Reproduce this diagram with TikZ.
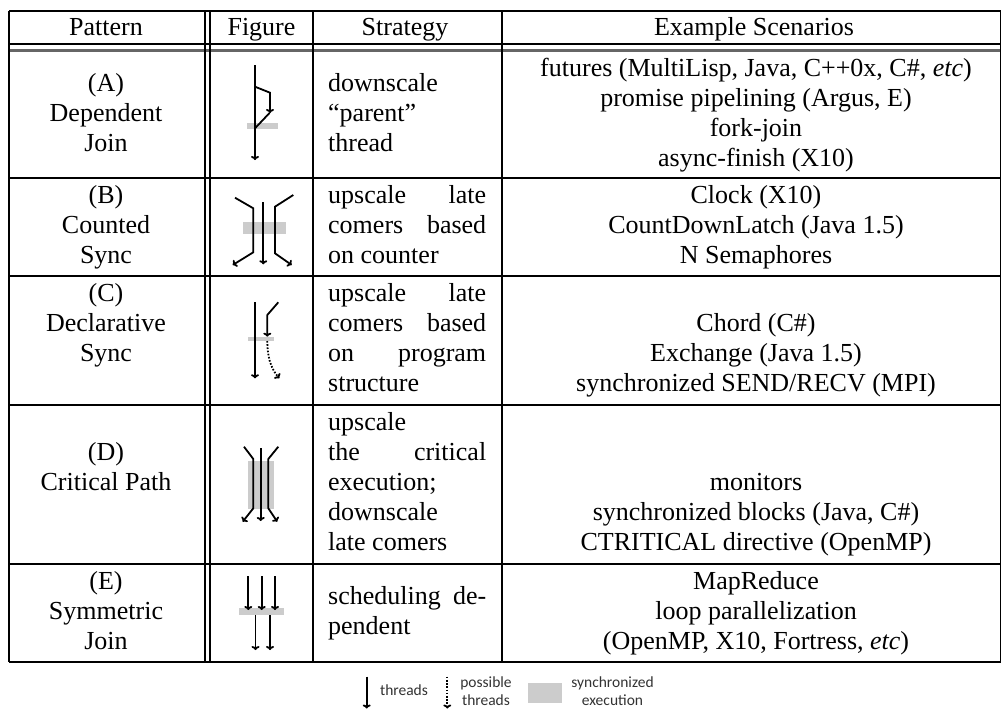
\documentclass[tikz,border=0pt]{standalone}
\usepackage{fontspec}
\setmainfont{Liberation Serif}
\newfontfamily\legendfont{Carlito}
\usetikzlibrary{arrows.meta}
\begin{document}
\begin{tikzpicture}[x=1pt,y=-1pt,
  tx/.style={font=\fontsize{26}{30}\selectfont, inner sep=0pt, anchor=base},
  txl/.style={tx, anchor=base west},
  thr/.style={line width=1.8pt, line join=miter, -{To[length=4pt,width=8pt]}},
  sync/.style={fill=gray!40, draw=none},
  rulex/.style={line width=1.1pt},
  leg/.style={font=\legendfont\fontsize{15.5}{20}\selectfont, inner sep=0pt, anchor=base, text=black!80}]
\useasboundingbox (0,0) rectangle (1002,710);
\fill[white] (0,0) rectangle (1002,710);

% ---------- table rules ----------
\foreach \y in {11,44,178,276,405,564,662} \draw[rulex] (9,\y) -- (1000.5,\y);
\draw[line width=2.4pt, black!60] (9,50.5) -- (1000.5,50.5);
\foreach \x in {9,205,210,313,502,1000.5} \draw[rulex] (\x,11) -- (\x,662);

% ---------- header ----------
\node[tx] (hpat) at (106,35.7) {Pattern};
\node[tx] (hfig) at (261.5,35.7) {Figure};
\node[tx] (hstr) at (405,35.7) {Strategy};
\node[tx] (hex) at (754,35.7) {Example Scenarios};

% ---------- row A ----------
\node[tx] (pa1) at (106,91) {(A)};
\node[tx] (pa2) at (106,121) {Dependent};
\node[tx] (pa3) at (106,151) {Join};
\node[txl] (sa1) at (328,91) {downscale};
\node[txl] (sa2) at (328,121) {“parent”};
\node[txl] (sa3) at (328,151) {thread};
\node[tx] (ea1) at (756,76) {futures (MultiLisp, Java, C++0x, C\#, \textit{etc})};
\node[tx] (ea2) at (756,106) {promise pipelining (Argus, E)};
\node[tx] (ea3) at (756,136) {fork-join};
\node[tx] (ea4) at (756,166) {async-finish (X10)};
% figure A
\fill[sync] (246.7,122.7) rectangle (278.3,129.3);
\draw[thr] (255,65) -- (255,160);
\draw[thr] (255,86.7) -- (270,92.7) -- (270,113);
\draw[line width=1.8pt] (269.5,113) -- (255,128.3);

% ---------- row B ----------
\node[tx] (pb1) at (106,203) {(B)};
\node[tx] (pb2) at (106,233) {Counted};
\node[tx] (pb3) at (106,263) {Sync};
\node[txl] (sb1) at (328,203) {\hbox to 158pt{upscale\hfill late}};
\node[txl] (sb2) at (328,233) {\hbox to 158pt{comers\hfill based}};
\node[txl] (sb3) at (328,263) {on counter};
\node[tx] (eb1) at (756,203) {Clock (X10)};
\node[tx] (eb2) at (756,233) {CountDownLatch (Java 1.5)};
\node[tx] (eb3) at (756,263) {N Semaphores};
% figure B
\fill[sync] (243.3,222.3) rectangle (286,234);
\draw[thr] (235,197.7) -- (253.3,208.3) -- (253.3,252.3) -- (232.7,265);
\draw[thr] (263.3,202.3) -- (263.3,264.3);
\draw[thr] (293.3,195) -- (275,206.7) -- (275,253.3) -- (291.7,265);

% ---------- row C ----------
\node[tx] (pc1) at (106,301) {(C)};
\node[tx] (pc2) at (106,331) {Declarative};
\node[tx] (pc3) at (106,361) {Sync};
\node[txl] (sc1) at (328,301) {\hbox to 158pt{upscale\hfill late}};
\node[txl] (sc2) at (328,331) {\hbox to 158pt{comers\hfill based}};
\node[txl] (sc3) at (328,361) {\hbox to 158pt{on\hfill program}};
\node[txl] (sc4) at (328,391) {structure};
\node[tx] (ec1) at (756,331) {Chord (C\#)};
\node[tx] (ec2) at (756,361) {Exchange (Java 1.5)};
\node[tx] (ec3) at (756,391) {synchronized SEND/RECV (MPI)};
% figure C
\fill[sync] (248.3,336.7) rectangle (274,341);
\draw[thr] (255,302.3) -- (255,378.3);
\draw[thr] (278.3,302.3) -- (267.3,315) -- (267.3,336.7);
\draw[thr, dash pattern=on 1.6pt off 1.6pt] (267.3,341) .. controls (267.3,356) and (270.5,368) .. (279.3,378.3);

% ---------- row D ----------
\node[tx] (pd1) at (106,460) {(D)};
\node[tx] (pd2) at (106,490) {Critical Path};
\node[txl] (sd1) at (328,430) {upscale};
\node[txl] (sd2) at (328,460) {\hbox to 158pt{the\hfill critical}};
\node[txl] (sd3) at (328,490) {execution;};
\node[txl] (sd4) at (328,520) {downscale};
\node[txl] (sd5) at (328,550) {late comers};
\node[tx] (ed1) at (756,490) {monitors};
\node[tx] (ed2) at (756,520) {synchronized blocks (Java, C\#)};
\node[tx] (ed3) at (756,550) {CTRITICAL directive (OpenMP)};
% figure D
\fill[sync] (248.3,461) rectangle (274,509);
\draw[thr] (244,446.7) -- (253.3,459) -- (253.3,508.3) -- (242.7,521.7);
\draw[thr] (260.7,448.3) -- (260.7,521);
\draw[thr] (278.3,446.7) -- (268.3,459) -- (268.3,508.3) -- (277.3,521.7);

% ---------- row E ----------
\node[tx] (pe1) at (106,589) {(E)};
\node[tx] (pe2) at (106,619) {Symmetric};
\node[tx] (pe3) at (106,649) {Join};
\node[txl] (se1) at (328,604) {\hbox to 158pt{scheduling\hfill de-}};
\node[txl] (se2) at (328,634) {pendent};
\node[tx] (ee1) at (756,589) {MapReduce};
\node[tx] (ee2) at (756,619) {loop parallelization};
\node[tx] (ee3) at (756,649) {(OpenMP, X10, Fortress, \textit{etc})};
% figure E
\fill[sync] (239.3,608.3) rectangle (284.3,615);
\foreach \x in {248.3,261.7,275} \draw[thr] (\x,576) -- (\x,610);
\foreach \x in {255.5,270} \draw[thr] (\x,615) -- (\x,650);

% ---------- legend ----------
\coordinate (l1a) at (366.7,676.7);
\coordinate (l1b) at (366.7,708.5);
\draw[thr] (l1a) -- (l1b);
\node[leg] (lt1) at (404,695.5) {threads};
\coordinate (l2a) at (447.3,676.7);
\coordinate (l2b) at (447.3,708.5);
\draw[thr, dash pattern=on 1.6pt off 1.6pt] (l2a) -- (l2b);
\node[leg] (lt2) at (486,687.5) {possible};
\node[leg] (lt3) at (486,705.5) {threads};
\fill[sync] (527.7,683.3) rectangle (561.7,703.3);
\node[leg] (lt4) at (612.5,687.5) {synchronized};
\node[leg] (lt5) at (612.5,705.5) {execution};
\end{tikzpicture}
\end{document}
